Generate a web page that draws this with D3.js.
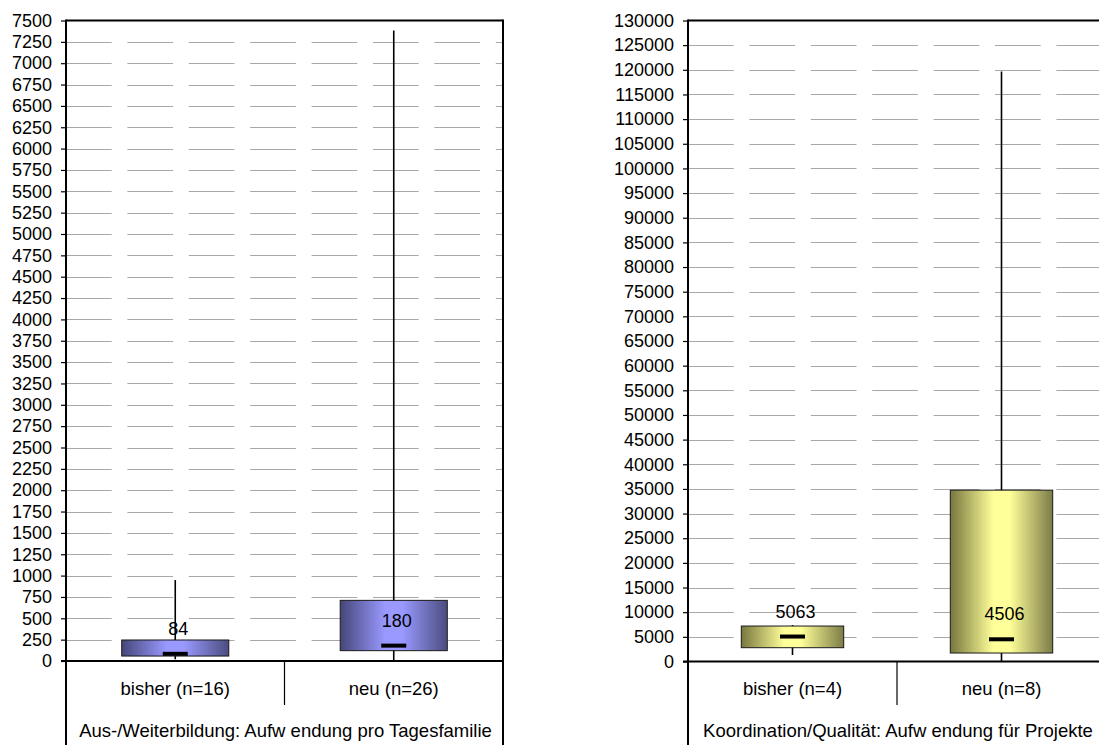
<!DOCTYPE html>
<html><head><meta charset="utf-8">
<script src="https://cdn.jsdelivr.net/npm/d3@7"></script>
<style>
html,body{margin:0;padding:0;background:#fff;}
svg{display:block;font-family:"Liberation Sans",Arial,sans-serif;}
</style></head>
<body>
<svg id="chart" width="1099" height="745"></svg>
<script>
// ---------- data ----------
const leftCategories = ["bisher (n=16)", "neu (n=26)"];
const leftMin    = [20, 10];
const leftQ1     = [58, 121];
const leftMedian = [84, 180];
const leftQ3     = [246, 710];
const leftMax    = [948, 7383];
const leftTicks  = d3.range(0, 7501, 250);
const leftTitle  = "Aus-/Weiterbildung: Aufw endung pro Tagesfamilie";

const rightCategories = ["bisher (n=4)", "neu (n=8)"];
const rightMin    = [1320, 100];
const rightQ1     = [2800, 1720];
const rightMedian = [5063, 4506];
const rightQ3     = [7194, 34750];
const rightMax    = [7400, 119650];
const rightTicks  = d3.range(0, 130001, 5000);
const rightTitle  = "Koordination/Qualität: Aufw endung für Projekte";

const svg = d3.select("#chart");
const defs = svg.append("defs");

function gradient(id, dark, light, dark2) {
  const g = defs.append("linearGradient").attr("id", id)
    .attr("x1", "0%").attr("x2", "100%").attr("y1", "0%").attr("y2", "0%");
  g.append("stop").attr("offset", "0%").attr("stop-color", dark);
  g.append("stop").attr("offset", "42%").attr("stop-color", light);
  g.append("stop").attr("offset", "58%").attr("stop-color", light);
  g.append("stop").attr("offset", "100%").attr("stop-color", dark2);
}
gradient("gBlue", "#46467a", "#9999ff", "#4c4c80");
gradient("gYellow", "#77773f", "#ffff99", "#7c7c48");

function drawPanel(cfg) {
  const {x0, x1, top, bottom, domainMax, ticks, cats, mins, q1, med, q3, maxs, title, fill, rightBorder} = cfg;
  const g = svg.append("g");
  const y = d3.scaleLinear().domain([0, domainMax]).range([bottom, top]);
  const x = d3.scaleBand().domain(cats).range([x0, x1]);
  const bw = x.bandwidth() * 0.49;

  // gridlines
  g.append("g").selectAll("line").data(ticks.filter(t => t > 0 && t < domainMax)).join("line")
    .attr("x1", x0).attr("x2", Math.min(x1, 1099))
    .attr("y1", d => Math.round(y(d)) + 0.5).attr("y2", d => Math.round(y(d)) + 0.5)
    .attr("stroke", "#a8a8a8").attr("stroke-width", 1.2)
    .attr("stroke-dasharray", "45.7,15.7");

  // y axis
  const axis = d3.axisLeft(y).tickValues(ticks).tickSize(5).tickPadding(9).tickFormat(d3.format("d"));
  const ag = g.append("g").attr("transform", `translate(${x0},0)`).call(axis);
  ag.select(".domain").remove();
  ag.selectAll(".tick line").attr("stroke", "#000").attr("stroke-width", 1.2);
  ag.selectAll(".tick text").attr("font-size", 18).attr("fill", "#000")
    .attr("font-family", "'Liberation Sans',Arial,sans-serif");

  // whiskers
  g.append("g").selectAll("line").data(cats).join("line")
    .attr("x1", d => x(d) + x.bandwidth() / 2).attr("x2", d => x(d) + x.bandwidth() / 2)
    .attr("y1", (d, i) => y(mins[i])).attr("y2", (d, i) => y(maxs[i]))
    .attr("stroke", "#000").attr("stroke-width", 1.6);

  // boxes
  g.append("g").selectAll("rect").data(cats).join("rect")
    .attr("x", d => x(d) + x.bandwidth() / 2 - bw / 2)
    .attr("width", bw)
    .attr("y", (d, i) => y(q3[i]))
    .attr("height", (d, i) => y(q1[i]) - y(q3[i]))
    .attr("fill", `url(#${fill})`).attr("stroke", "#1a1a1a").attr("stroke-width", 1);

  // median markers
  g.append("g").selectAll("rect").data(cats).join("rect")
    .attr("x", d => x(d) + x.bandwidth() / 2 - 12.5)
    .attr("width", 25)
    .attr("y", (d, i) => y(med[i]) - 2)
    .attr("height", 4)
    .attr("fill", "#000");

  // median labels
  g.append("g").selectAll("text").data(cats).join("text")
    .attr("x", d => x(d) + x.bandwidth() / 2 + 3)
    .attr("y", (d, i) => y(med[i]) - 19)
    .attr("text-anchor", "middle").attr("font-size", 18).attr("fill", "#000")
    .text((d, i) => med[i]);

  // frame
  const line = (a, b, c, d, w) => g.append("line").attr("x1", a).attr("y1", b).attr("x2", c).attr("y2", d)
    .attr("stroke", "#000").attr("stroke-width", w);
  line(x0, top, Math.min(x1, 1099), top, 2);
  line(x0 - 5, bottom, Math.min(x1, 1099), bottom, 2);
  line(x0, top - 1, x0, 745, 2);
  if (rightBorder) line(x1, top - 1, x1, 745, 2);
  // category divider
  line(x(cats[1]), bottom, x(cats[1]), 705, 1.2);

  // category labels
  g.append("g").selectAll("text").data(cats).join("text")
    .attr("x", d => x(d) + x.bandwidth() / 2)
    .attr("y", 695)
    .attr("text-anchor", "middle").attr("font-size", 18.5).attr("fill", "#000")
    .text(d => d);

  g.append("text").attr("x", (x0 + x1) / 2 + 1).attr("y", 737)
    .attr("text-anchor", "middle").attr("font-size", 18.5).attr("fill", "#000")
    .text(title);
}

drawPanel({x0: 66, x1: 503, top: 20.5, bottom: 661, domainMax: 7500, ticks: leftTicks,
  cats: leftCategories, mins: leftMin, q1: leftQ1, med: leftMedian, q3: leftQ3, maxs: leftMax,
  title: leftTitle, fill: "gBlue", rightBorder: true});

drawPanel({x0: 688, x1: 1106, top: 20.5, bottom: 661.5, domainMax: 130000, ticks: rightTicks,
  cats: rightCategories, mins: rightMin, q1: rightQ1, med: rightMedian, q3: rightQ3, maxs: rightMax,
  title: rightTitle, fill: "gYellow", rightBorder: false});
</script>
</body></html>
